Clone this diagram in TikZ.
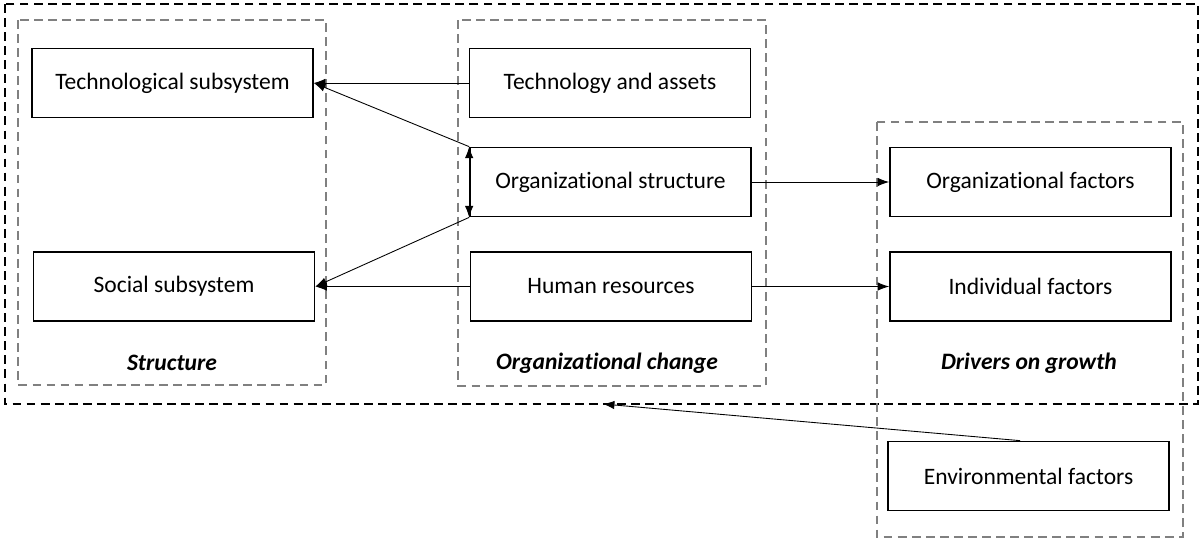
\documentclass[tikz,border=0pt]{standalone}
\usepackage{fontspec}
\setmainfont{Carlito}[Ligatures=NoCommon]
\usepackage{tikz}
\usetikzlibrary{arrows,arrows.meta}

\begin{document}
\begin{tikzpicture}[x=0.02cm,y=-0.02cm,->,>={Latex[length=6.5pt,width=4.8pt]},line width=0.5pt,font=\fontsize{13.4}{16}\selectfont]
\tikzstyle{box}=[draw=black,line width=1pt,minimum width=5.62cm,minimum height=1.38cm,inner sep=0pt]
\tikzstyle{group}=[draw=black!50,dashed,line width=0.8pt,dash pattern=on 5pt off 3pt]
\tikzstyle{title}=[font=\fontsize{13.4}{16}\selectfont\bfseries\itshape]
\useasboundingbox (0,0) rectangle (1200,539);

% outer frame and the three groups
\draw[-,dashed,line width=0.8pt,dash pattern=on 5pt off 3pt] (5,4) rectangle (1198,404);
\draw[-,group] (18,20) rectangle (326,385);
\draw[-,group] (458,20) rectangle (766,386);
\draw[-,group] (877,122) rectangle (1183,537);

\node[box] (TS) at (172.5,83) {Technological subsystem};
\node[box] (SS) at (174,286.5) {Social subsystem};
\node[box] (TA) at (610,83) {Technology and assets};
\node[box] (OS) at (610.5,182) {Organizational structure};
\node[box] (HR) at (611,286.5) {Human resources};
\node[box] (OF) at (1030.5,182) {Organizational factors};
\node[box] (IF) at (1030.5,286.5) {Individual factors};
\node[box] (EF) at (1028.5,476) {Environmental factors};

\node[title] (T1) at (172,363) {Structure};
\node[title] (T2) at (607,363) {Organizational change};
\node[title] (T3) at (1029,363) {Drivers on growth};

\coordinate (ENV) at (603,404);

\path (TA) edge (TS)
      (OS.north west) edge (TS.east)
      (OS.south west) edge (SS.east)
      (HR) edge (SS)
      (OS) edge (OF)
      (HR) edge (IF)
      ([xshift=-0.17cm]EF.north) edge (ENV);
\draw[<->] (OS.north west) -- (OS.south west);
\end{tikzpicture}
\end{document}
